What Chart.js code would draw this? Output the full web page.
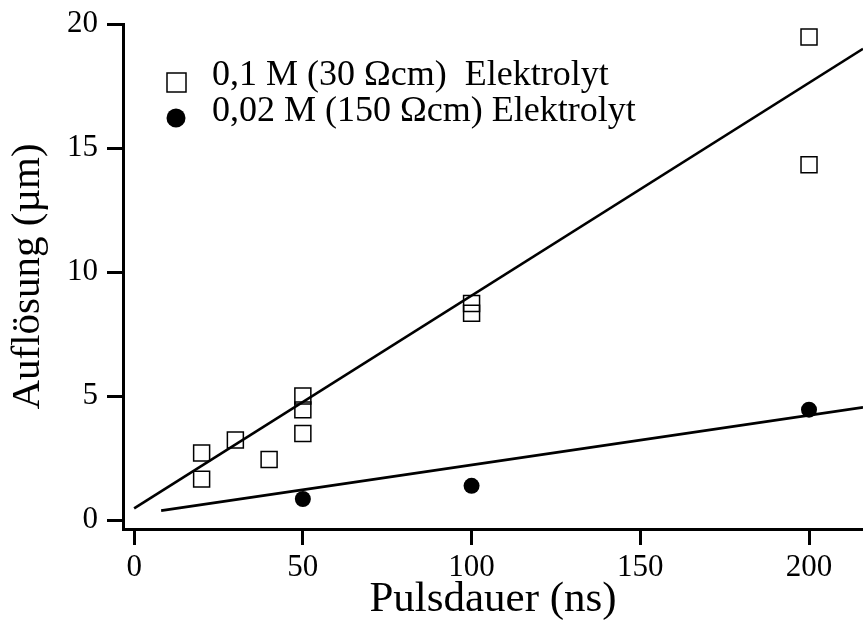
<!DOCTYPE html>
<html>
<head>
<meta charset="utf-8">
<script src="https://cdn.jsdelivr.net/npm/chart.js@4"></script>
<style>
  html, body { margin: 0; padding: 0; background: #fff; }
  #wrap { width: 863px; height: 626px; }
</style>
</head>
<body>
<div id="wrap"><canvas id="chart" width="863" height="626"></canvas></div>
<script>
// data
const pulse01 = [20, 20, 30, 40, 50, 50, 50, 100, 100, 200, 200];
const res01 = [2.71, 1.66, 3.24, 2.45, 5.01, 4.45, 3.5, 8.74, 8.34, 19.48, 14.33];
const pulse002 = [50, 100, 200];
const res002 = [0.86, 1.39, 4.46];
const fit01X = [0, 216];
const fit01Y = [0.48, 19.0];
const fit002X = [8, 216];
const fit002Y = [0.39, 4.55];
const xTicks = [0, 50, 100, 150, 200];
const yTicks = [0, 5, 10, 15, 20];
const legendLabels = ["0,1 M (30 \u03A9cm)  Elektrolyt", "0,02 M (150 \u03A9cm) Elektrolyt"];

const serif = "'Liberation Serif', 'DejaVu Serif', serif";

function pts(xs, ys) {
  return xs.map((x, i) => ({ x: x, y: ys[i] }));
}

// legend drawn inside the plot, like the original
const innerLegend = {
  id: 'innerLegend',
  afterDraw(chart) {
    const ctx = chart.ctx;
    ctx.save();
    ctx.font = "36px " + serif;
    ctx.fillStyle = "#000";
    ctx.textBaseline = "alphabetic";
    // square
    ctx.lineWidth = 1.5;
    ctx.strokeStyle = "#000";
    ctx.strokeRect(167, 73, 19, 19);
    ctx.fillText(legendLabels[0], 212, 85);
    // dot
    ctx.beginPath();
    ctx.arc(176, 118, 9.5, 0, Math.PI * 2);
    ctx.fill();
    ctx.fillText(legendLabels[1], 212, 121);
    ctx.restore();
  }
};

const ctx = document.getElementById('chart').getContext('2d');
const chart = new Chart(ctx, {
  type: 'scatter',
  data: {
    datasets: [
      {
        label: legendLabels[0],
        data: pts(pulse01, res01),
        pointStyle: 'rect',
        pointRadius: 11.3,
        pointBorderWidth: 1.5,
        borderColor: '#000',
        backgroundColor: 'rgba(0,0,0,0)'
      },
      {
        label: legendLabels[1],
        data: pts(pulse002, res002),
        pointStyle: 'circle',
        pointRadius: 8,
        pointBorderWidth: 0,
        borderColor: '#000',
        backgroundColor: '#000'
      },
      {
        label: 'fit 0,1 M',
        type: 'line',
        data: pts(fit01X, fit01Y),
        showLine: true,
        pointRadius: 0,
        borderColor: '#000',
        borderWidth: 2.6,
        fill: false
      },
      {
        label: 'fit 0,02 M',
        type: 'line',
        data: pts(fit002X, fit002Y),
        showLine: true,
        pointRadius: 0,
        borderColor: '#000',
        borderWidth: 2.6,
        fill: false
      }
    ]
  },
  options: {
    responsive: false,
    animation: false,
    events: [],
    layout: { autoPadding: false, padding: { top: 24, right: 0, bottom: 0, left: 0 } },
    plugins: {
      legend: { display: false },
      tooltip: { enabled: false }
    },
    scales: {
      x: {
        type: 'linear',
        min: -3.3,
        max: 216,
        afterBuildTicks: s => { s.ticks = xTicks.map(v => ({ value: v })); },
        afterFit: s => { s.height = 97; s.paddingLeft = 0; s.paddingRight = 0; },
        border: { display: true, color: '#000', width: 3 },
        grid: { drawOnChartArea: false, color: '#000', tickLength: 16, tickWidth: 3, tickColor: '#000' },
        ticks: { color: '#000', padding: 4, font: { family: serif, size: 31 }, maxRotation: 0 },
        title: { display: true, text: 'Pulsdauer (ns)', color: '#000', font: { family: serif, size: 43 }, padding: { top: 0, bottom: 0 } }
      },
      y: {
        type: 'linear',
        min: -0.35,
        max: 20,
        afterBuildTicks: s => { s.ticks = yTicks.map(v => ({ value: v })); },
        afterFit: s => { s.width = 123; s.paddingTop = 0; s.paddingBottom = 0; },
        border: { display: true, color: '#000', width: 3 },
        grid: { drawOnChartArea: false, color: '#000', tickLength: 16, tickWidth: 3, tickColor: '#000' },
        ticks: { color: '#000', padding: 9, font: { family: serif, size: 31 } },
        title: { display: true, text: 'Aufl\u00F6sung (\u00B5m)', color: '#000', font: { family: serif, size: 41 }, padding: { top: 4, bottom: 0 } }
      }
    }
  },
  plugins: [innerLegend]
});
</script>
</body>
</html>
